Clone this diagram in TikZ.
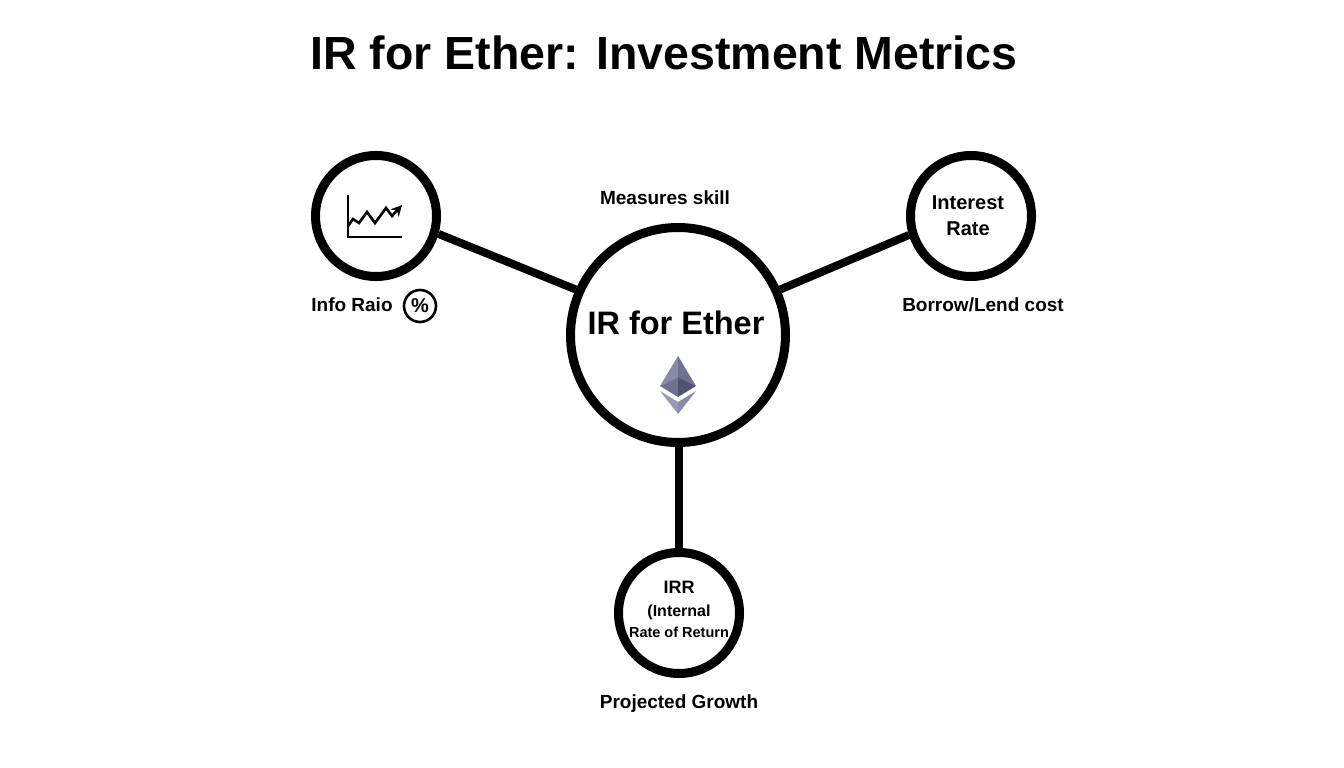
\documentclass[tikz,border=0pt]{standalone}
\usepackage{fontspec}
\setmainfont{Liberation Sans}
\usepackage{tikz}
\usetikzlibrary{arrows.meta}
\definecolor{ethlight}{HTML}{858CA8}
\definecolor{ethmid}{HTML}{6C7290}
\definecolor{ethdark}{HTML}{50556F}
\definecolor{ethpale}{HTML}{959BB5}
\tikzstyle{hub} = [circle, draw=black, line width=9pt, minimum size=215pt, inner sep=0pt]
\tikzstyle{metric} = [circle, draw=black, line width=9pt, minimum size=121pt, inner sep=0pt, align=center, font=\bfseries\fontsize{20}{26}\selectfont]
\tikzstyle{caption} = [inner sep=0pt, font=\bfseries\fontsize{19}{24}\selectfont]
\tikzstyle{link} = [line width=8pt]
\tikzstyle{chart} = [line width=2.6pt, black]

\begin{document}
\begin{tikzpicture}[x=1pt, y=-1pt]
  \useasboundingbox (0,0) rectangle (1344,768);

  \node (title) [inner sep=0pt, font=\bfseries\fontsize{46.5}{56}\selectfont] at (664,53) {IR for Ether: Investment Metrics};

  \node (hub) [hub] at (678,335) {};
  \node (hubtext) [inner sep=0pt, font=\bfseries\fontsize{32.5}{40}\selectfont] at (676,323) {IR for Ether};
  \node (info) [metric, left of=hub, node distance=302pt, yshift=119pt] {};
  \node (rate) [metric, right of=hub, node distance=293pt, yshift=119pt] {\hspace*{-6pt}Interest\\\hspace*{-6pt}Rate};
  \node (irr) [metric, below of=hub, node distance=278pt, xshift=1pt] {{\fontsize{18}{22}\selectfont \raisebox{7pt}{IRR}}\\[-3pt]{\fontsize{16}{20}\selectfont \raisebox{7pt}{(Internal}}\\[-5pt]{\fontsize{14.5}{18}\selectfont \raisebox{7pt}{Rate of Return}}};

  \node (skill) [caption] at (665,198) {Measures skill};
  \node (inforaio) [caption] at (352,305) {Info Raio};
  \node (percent) [circle, draw=black, line width=2.6pt, minimum size=32pt, inner sep=0pt, font=\bfseries\fontsize{20}{24}\selectfont] at (420,306) {\%};
  \node (borrow) [caption] at (983,305) {Borrow/Lend cost};
  \node (growth) [caption] at (679,704) {Projected Growth};

  \draw [link] (info.-16.5) -- (hub.156.3);
  \draw [link] (rate.197.8) -- (hub.24.2);
  \draw [link] (irr |- hub.south) -- (irr);

  % chart icon
  \draw [chart] (348,195) -- (348,237) -- (402,237);
  \draw [chart, -{Stealth[length=11pt,width=11pt]}] (348,226) -- (353,219) -- (359,223) -- (367,212) -- (375,223) -- (386,208) -- (392,216) -- (402,205);

  % ether logo
  \fill [ethlight] (678,356) -- (660,386) -- (678,377) -- cycle;
  \fill [ethmid] (678,356) -- (696,386) -- (678,377) -- cycle;
  \fill [ethmid] (660,386) -- (678,377) -- (678,397) -- cycle;
  \fill [ethdark] (696,386) -- (678,377) -- (678,397) -- cycle;
  \fill [ethpale] (660,391) -- (678,402) -- (678,414) -- cycle;
  \fill [ethlight] (696,391) -- (678,402) -- (678,414) -- cycle;

\end{tikzpicture}
\end{document}
